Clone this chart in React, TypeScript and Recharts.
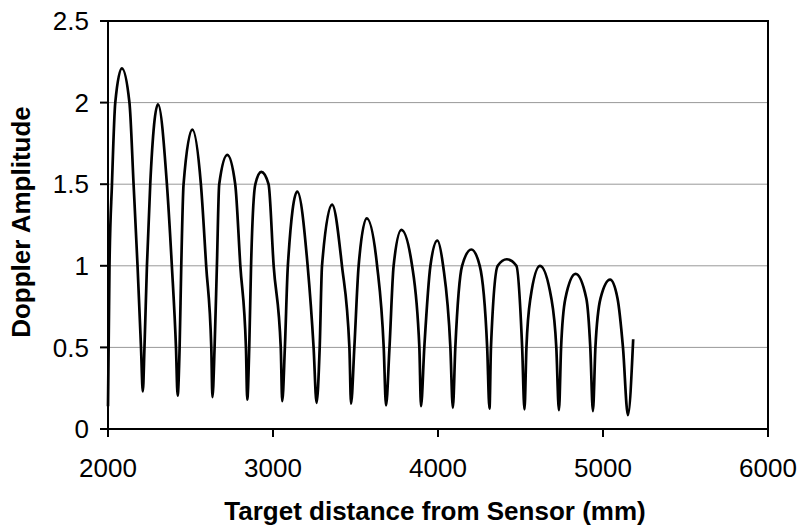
import { LineChart, Line, XAxis, YAxis, CartesianGrid, ReferenceArea, Label } from "recharts"

// distance (mm) and amplitude: troughs, peaks and gridline crossings
const distanceMm = [
  2000, 2009, 2024, 2044, 2084, 2130, 2155, 2179, 2200, 2211,
  2221, 2236, 2256, 2303, 2357, 2387, 2412, 2422,
  2434, 2444, 2458, 2511, 2563, 2595, 2626, 2633,
  2646, 2660, 2674, 2723, 2771, 2802, 2836, 2844,
  2856, 2867, 2893, 2929, 2973, 3004, 3047, 3056,
  3072, 3090, 3147, 3210, 3246, 3264,
  3283, 3297, 3358, 3418, 3463, 3473,
  3493, 3519, 3568, 3631, 3671, 3685,
  3706, 3731, 3778, 3843, 3887, 3897,
  3917, 3954, 3996, 4031, 4075, 4090,
  4105, 4146, 4202, 4253, 4298, 4312,
  4321, 4362, 4417, 4475, 4510, 4524,
  4536, 4560, 4618, 4687, 4717, 4733,
  4746, 4772, 4834, 4899, 4923, 4939,
  4954, 4985, 5043, 5088, 5121, 5151,
  5183,
]

const amplitude = [
  0.14, 1.0, 1.5, 2.0, 2.21, 2.0, 1.5, 1.0, 0.5, 0.23,
  0.5, 1.0, 1.5, 1.99, 1.5, 1.0, 0.5, 0.205,
  0.5, 1.0, 1.5, 1.835, 1.5, 1.0, 0.5, 0.195,
  0.5, 1.0, 1.5, 1.68, 1.5, 1.0, 0.5, 0.18,
  0.5, 1.0, 1.5, 1.575, 1.5, 1.0, 0.5, 0.17,
  0.5, 1.0, 1.455, 1.0, 0.5, 0.16,
  0.5, 1.0, 1.375, 1.0, 0.5, 0.155,
  0.5, 1.0, 1.29, 1.0, 0.5, 0.145,
  0.5, 1.0, 1.22, 1.0, 0.5, 0.14,
  0.5, 1.0, 1.155, 1.0, 0.5, 0.13,
  0.5, 1.0, 1.1, 1.0, 0.5, 0.125,
  0.5, 1.0, 1.04, 1.0, 0.5, 0.12,
  0.5, 0.8, 1.0, 0.8, 0.5, 0.115,
  0.5, 0.8, 0.95, 0.8, 0.5, 0.11,
  0.5, 0.8, 0.915, 0.8, 0.5, 0.085,
  0.55,
]

const xTicks = [2000, 3000, 4000, 5000, 6000]
const yTicks = [0, 0.5, 1, 1.5, 2, 2.5]

const data = distanceMm.map((d, i) => ({ distance: d, amplitude: amplitude[i] }))

const font = "'Liberation Sans', Arial, Helvetica, sans-serif"
const tickStyle = { fontFamily: font, fontSize: 26, fill: "#000" }

export default function App() {
  return (
    <div style={{ position: "absolute", left: 0, top: 0, width: 800, height: 526, background: "#fff" }}>
      <LineChart width={800} height={526} data={data} margin={{ top: 21, right: 32, bottom: 0, left: 0 }}>
        <CartesianGrid vertical={false} stroke="#999" strokeWidth={1} />
        <XAxis
          dataKey="distance"
          type="number"
          domain={[2000, 6000]}
          ticks={xTicks}
          height={97}
          tickSize={8}
          tickMargin={22}
          tick={tickStyle}
          stroke="#000"
          strokeWidth={2}
          interval={0}
        >
          <Label
            content={() => (
              <text x={435} y={520} textAnchor="middle" fontFamily={font} fontSize={26} fontWeight="bold" fill="#000">
                Target distance from Sensor (mm)
              </text>
            )}
          />
        </XAxis>
        <YAxis
          type="number"
          domain={[0, 2.5]}
          ticks={yTicks}
          width={108}
          tickSize={8}
          tickMargin={11}
          tick={tickStyle}
          stroke="#000"
          strokeWidth={2}
          interval={0}
        >
          <Label
            content={() => (
              <text
                x={30}
                y={222}
                transform="rotate(-90 30 222)"
                textAnchor="middle"
                fontFamily={font}
                fontSize={26}
                fontWeight="bold"
                fill="#000"
              >
                Doppler Amplitude
              </text>
            )}
          />
        </YAxis>
        <ReferenceArea x1={2000} x2={6000} y1={0} y2={2.5} fill="none" stroke="#000" strokeWidth={2} />
        <Line
          type="monotone"
          dataKey="amplitude"
          stroke="#000"
          strokeWidth={2.7}
          dot={false}
          activeDot={false}
          isAnimationActive={false}
        />
      </LineChart>
    </div>
  )
}
